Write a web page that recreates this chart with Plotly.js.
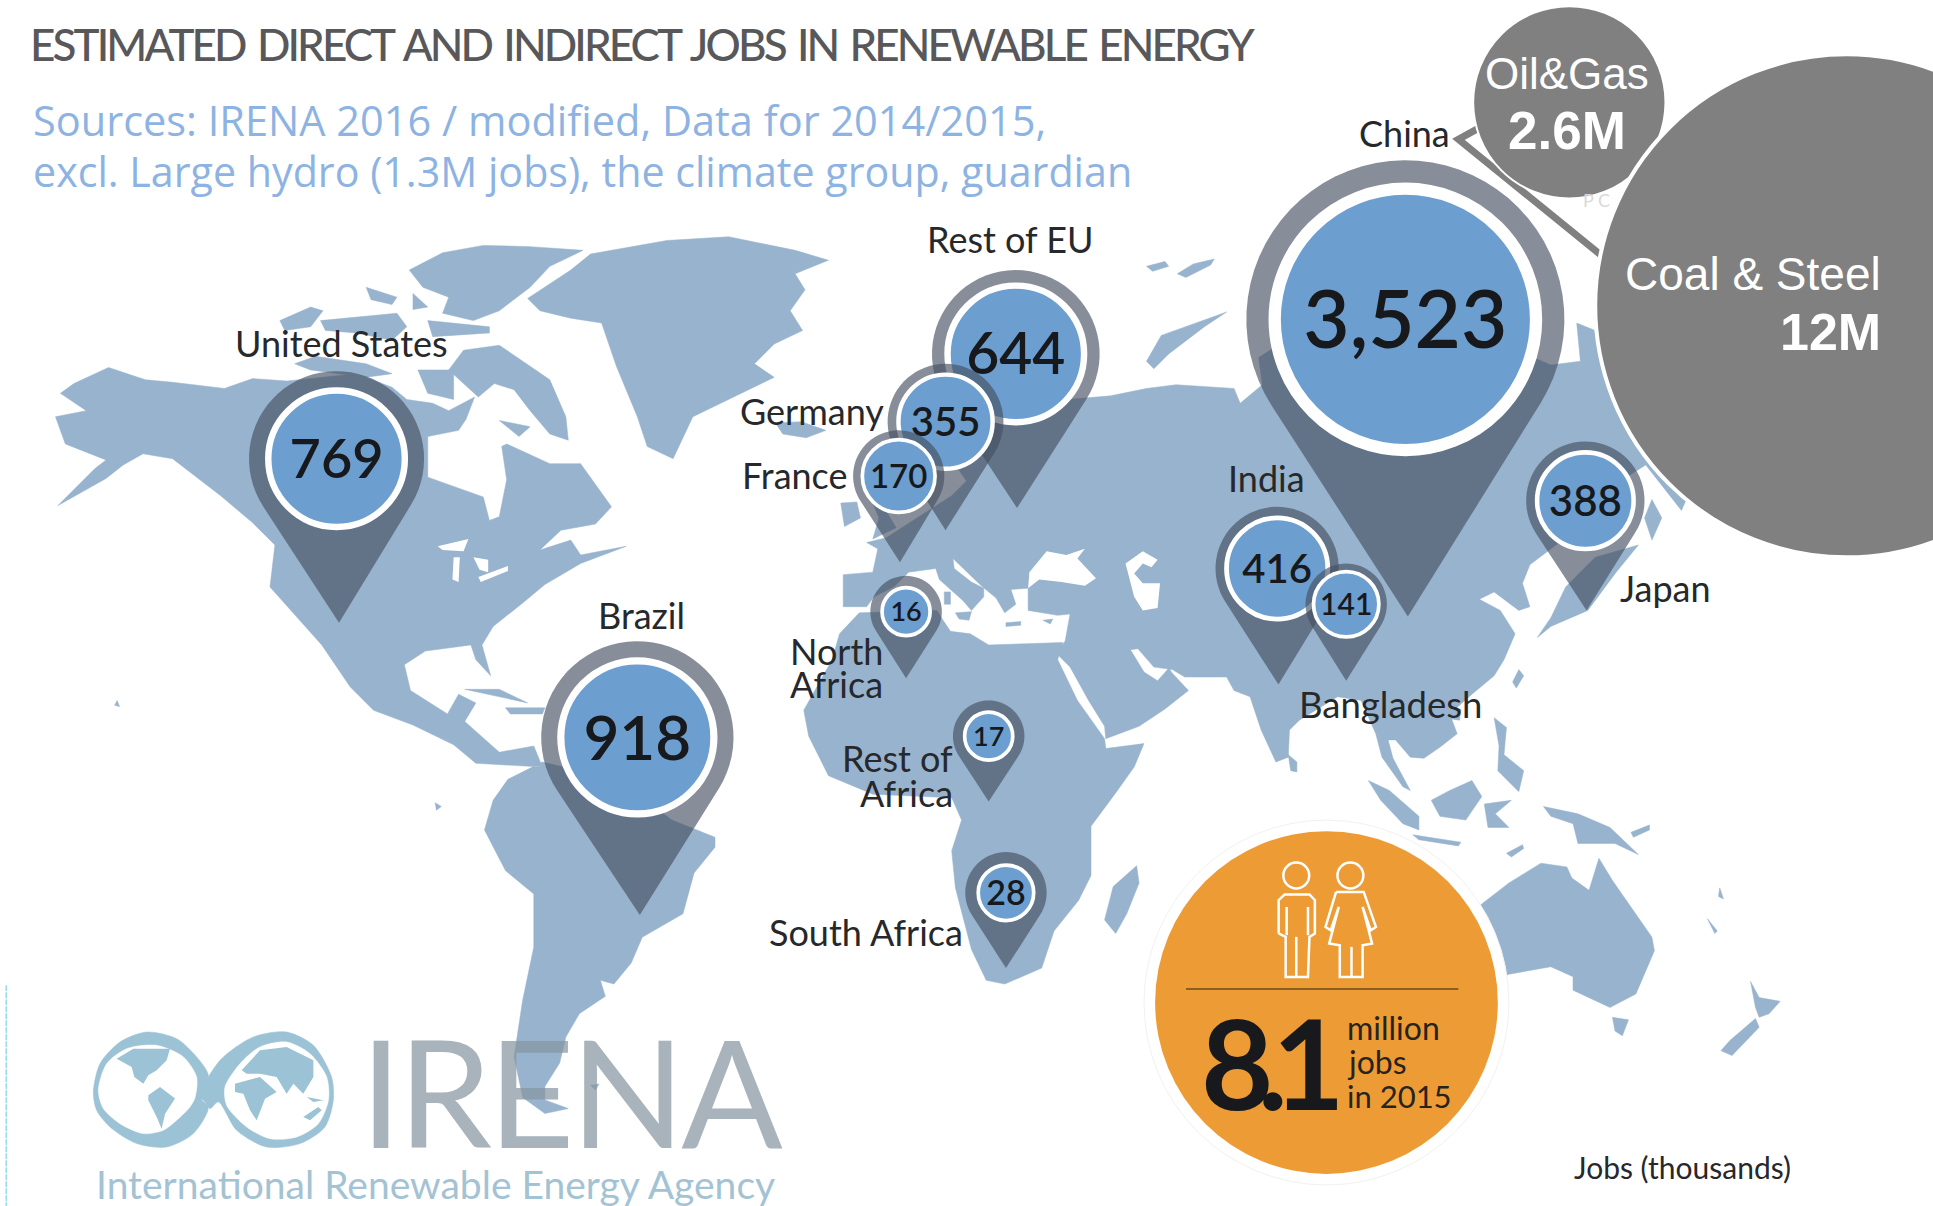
<!DOCTYPE html>
<html><head><meta charset="utf-8">
<script src="https://cdn.plot.ly/plotly-3.0.1.min.js"></script>
<style>html,body{margin:0;padding:0;background:#fff}#chart{width:1933px;height:1206px}</style>
</head><body><div id="chart"></div>
<script>
// ---------- data ----------
const regions = ['Rest of EU','Germany','France','United States','Brazil','China','India','Bangladesh','Japan','North Africa','Rest of Africa','South Africa'];
const jobs    = [644,355,170,769,918,3523,416,141,388,16,17,28];
const otherSectors = ['Oil&Gas','Coal & Steel'];
const otherJobs    = ['2.6M','12M'];
// pin placement on the map (image coordinates)
const pinX  = [824,767,729,273,517,1140,1036,1092,1286,735,802,816];
const pinY  = [287,342,386,372,598,259,461,490,406,496,597,724];
const tipX  = [825,767,730,275,519,1142,1037,1092,1287,735,802,816];
const tipY  = [412,430,456,505,742,500,555,552,495,550,650,785];
const outerR= [68,47,37,71,78,129,50,33,48,29,29,33];
const whiteR= [58,40,31,58,65,111,43,28,41,21,21,24];
const valueFont=[57,40,33,54,62,80,40,30,42,27,27,34];
// land outlines (image coordinates)
const northAmerica=[[49,319],[60,311],[88,298],[118,308],[140,310],[182,315],[205,307],[233,309],[289,303],[318,314],[330,324],[351,327],[364,333],[385,322],[378,340],[372,349],[347,354],[347,387],[392,403],[397,422],[405,419],[411,389],[407,362],[411,360],[446,376],[471,376],[496,411],[483,425],[455,430],[438,446],[463,438],[471,450],[508,443],[471,457],[442,474],[424,489],[400,508],[391,523],[398,548],[386,535],[382,523],[345,528],[328,539],[333,560],[363,579],[372,563],[386,570],[377,585],[405,610],[433,605],[440,622],[386,619],[368,604],[335,588],[303,576],[284,557],[261,523],[219,476],[223,442],[205,424],[179,402],[140,372],[116,368],[100,377],[86,388],[47,410],[77,380],[86,373],[53,360],[45,338],[70,333]];
const greenland=[[428,242],[463,219],[479,206],[541,195],[591,192],[645,203],[672,211],[645,222],[653,235],[641,252],[651,268],[628,279],[612,295],[628,306],[562,338],[546,372],[525,362],[517,338],[500,297],[488,262],[463,258],[438,252]];
const ellesmere=[[332,219],[359,205],[392,199],[430,200],[473,203],[446,216],[430,233],[405,252],[384,260],[359,254],[364,241],[343,233]];
const devon=[[347,260],[397,265],[397,270],[351,273]];
const axel=[[297,233],[322,241],[318,247],[301,243]];
const cornwallis=[[335,238],[347,249],[335,251]];
const banks=[[227,260],[252,249],[262,252],[252,265],[231,268]];
const melville=[[260,260],[289,257],[322,254],[330,265],[318,276],[289,270],[264,268]];
const victoria=[[239,295],[256,289],[297,295],[318,303],[297,306],[252,300]];
const kingWilliam=[[339,300],[368,300],[368,324],[347,319]];
const baffin=[[376,284],[405,280],[430,297],[446,308],[459,338],[461,357],[446,352],[430,333],[417,316],[401,311],[388,322],[364,300]];
const southampton=[[405,341],[430,346],[421,354]];
const iceland=[[629,343],[650,342],[670,349],[654,355],[635,352]];
const cuba=[[377,559],[405,559],[428,570],[410,566]];
const hispaniola=[[410,574],[442,574],[440,579],[414,579]];
const southAmerica=[[400,649],[412,632],[440,618],[470,625],[500,640],[525,650],[545,665],[580,679],[580,687],[563,708],[554,741],[521,760],[512,781],[498,798],[487,795],[491,808],[470,822],[459,841],[454,862],[442,881],[442,892],[461,899],[442,903],[424,890],[417,857],[424,811],[433,768],[433,725],[410,706],[393,673]];
const eurasia=[[684,466],[708,464],[712,445],[703,440],[719,436],[754,414],[772,402],[784,390],[770,370],[790,330],[830,310],[866,324],[901,321],[930,315],[954,312],[1001,315],[1006,327],[1024,312],[1021,290],[1060,265],[1140,245],[1258,296],[1282,293],[1279,262],[1294,268],[1400,280],[1370,400],[1364,414],[1335,377],[1305,396],[1270,436],[1241,458],[1235,473],[1241,492],[1232,495],[1212,480],[1200,486],[1217,495],[1229,514],[1220,535],[1212,548],[1194,563],[1176,579],[1182,595],[1168,606],[1155,615],[1144,614],[1132,600],[1126,600],[1130,615],[1144,641],[1138,638],[1121,614],[1116,595],[1104,568],[1085,565],[1054,584],[1046,592],[1045,614],[1035,618],[1023,592],[1014,565],[1001,560],[995,549],[961,549],[951,543],[936,541],[923,526],[917,527],[928,545],[939,552],[948,542],[951,546],[964,560],[945,575],[924,589],[897,599],[896,589],[883,568],[868,541],[856,529],[864,520],[868,498],[858,499],[834,495],[834,477],[820,478],[824,490],[815,497],[808,485],[796,475],[773,453],[774,461],[788,472],[798,477],[798,484],[788,495],[781,487],[762,470],[759,461],[737,464],[725,476],[709,484],[703,492],[684,492]];
const africa=[[697,497],[730,496],[760,495],[765,503],[771,512],[787,514],[802,523],[833,522],[862,521],[858,535],[874,568],[896,599],[897,607],[928,603],[920,622],[905,643],[885,670],[885,710],[875,730],[855,755],[845,785],[815,798],[800,795],[788,770],[775,720],[772,690],[780,665],[772,647],[708,644],[672,629],[656,597],[652,576],[675,535],[681,514]];
const madagascar=[[922,702],[924,716],[914,741],[905,757],[896,746],[903,719]];
const australia=[[1190,745],[1202,733],[1224,716],[1250,700],[1271,703],[1275,712],[1289,722],[1297,696],[1308,714],[1340,760],[1342,771],[1327,806],[1306,817],[1276,803],[1276,792],[1258,784],[1224,790],[1195,800]];
const tasmania=[[1308,825],[1321,827],[1316,840],[1310,836]];
const nzNorth=[[1420,796],[1427,809],[1444,812],[1435,822],[1427,825],[1424,817]];
const nzSouth=[[1424,826],[1427,833],[1405,856],[1396,852],[1403,844]];
const sumatra=[[1110,633],[1127,641],[1151,662],[1151,673],[1138,668],[1120,649]];
const java=[[1146,677],[1185,683],[1183,686],[1151,681]];
const borneo=[[1161,649],[1176,641],[1194,633],[1202,646],[1189,665],[1168,662]];
const sulawesi=[[1204,652],[1226,649],[1213,660],[1224,671],[1207,671]];
const newGuinea=[[1252,654],[1280,660],[1306,671],[1329,693],[1310,684],[1280,684],[1276,668],[1258,662]];
const newBritain=[[1323,675],[1338,669],[1338,673],[1325,679]];
const timor=[[1222,692],[1235,685],[1236,688],[1226,695]];
const philippines=[[1212,582],[1222,590],[1220,612],[1236,625],[1232,642],[1215,625],[1216,605]];
const japanIslands=[[1329,442],[1311,464],[1288,495],[1258,508],[1247,517],[1258,501],[1270,476],[1294,452]];
const taiwan=[[1232,543],[1236,548],[1230,558],[1227,553]];
const hainan=[[1176,575],[1185,575],[1184,584],[1177,583]];
const sriLanka=[[1045,612],[1052,618],[1052,626],[1047,625]];
const ireland=[[682,408],[695,407],[698,420],[685,427]];
const britain=[[703,396],[717,392],[716,410],[727,428],[708,437],[713,420]];
const novayaZemlya=[[930,293],[942,272],[995,253],[977,265],[948,287],[936,299]];
const svalbard=[[930,216],[945,212],[948,216],[935,220]];
const franzJosef=[[955,222],[968,214],[985,210],[982,215],[962,225]];
const sakhalin=[[1340,405],[1348,420],[1340,438],[1334,420]];
const sicily=[[775,497],[788,496],[786,503],[778,502]];
const sardinia=[[766,480],[771,480],[771,490],[766,490]];
const crete=[[816,505],[828,504],[828,507],[816,508]];
const cyprus=[[846,503],[854,502],[852,506]];
const specks=[[[95,568],[97,573],[93,572]],[[353,651],[358,654],[354,657]],[[479,880],[486,879],[483,884]],[[1395,720],[1398,729],[1394,727]],[[1385,745],[1393,755],[1391,757]]];
const lands=[northAmerica,greenland,ellesmere,devon,axel,cornwallis,banks,melville,victoria,kingWilliam,baffin,southampton,iceland,cuba,hispaniola,southAmerica,eurasia,africa,madagascar,australia,tasmania,nzNorth,nzSouth,sumatra,java,borneo,sulawesi,newGuinea,newBritain,timor,philippines,japanIslands,taiwan,hainan,sriLanka,ireland,britain,novayaZemlya,svalbard,franzJosef,sakhalin,sicily,sardinia,crete,cyprus,...specks];
// inland water
const blackSea=[[835,464],[849,447],[865,450],[880,445],[874,453],[889,469],[880,475],[861,472],[843,470],[834,477]];
const caspian=[[913,457],[927,447],[939,454],[934,460],[927,457],[920,465],[927,473],[941,473],[939,493],[927,495],[920,484]];
const superior=[[355,443],[380,437],[376,447],[359,446]];
const michigan=[[368,452],[373,452],[372,472],[367,470]];
const huron=[[384,452],[396,454],[396,464],[389,462]];
const erie=[[388,468],[412,459],[412,463],[390,472]];
const waters=[blackSea,caspian,superior,michigan,huron,erie];
// logo outlines
const logoLeftOuter=[[75.7,885.5],[81.1,862.6],[97.3,845],[119,836.9],[143.3,842.3],[159.5,857.1],[169,872],[162.2,889.6],[169,898.2],[156.8,919.3],[135.2,930.2],[110.9,927.4],[89.2,913.9],[78.4,900.4]];
const logoLeftHole=[[79.8,884.2],[86.5,862.6],[102.8,850.4],[127.1,847.7],[148.7,857.1],[159.5,873.4],[158.2,890.1],[154.1,897.7],[143.3,908.5],[132.5,916.6],[116.3,919.3],[97.3,911.2],[83.8,899]];
const logoRightOuter=[[160.9,891],[178.5,859.8],[205.5,840.9],[232.5,836.9],[254.2,847.7],[269,873.4],[270.4,892.3],[263.6,913.9],[243.4,927.4],[216.3,930.2],[192,916.6],[177.1,893.6],[170.4,899],[165,892.3]];
const logoRightHole=[[182.5,881.5],[194.7,862.6],[210.9,849],[232.5,845],[251.5,854.5],[265,873.4],[266.4,892.3],[258.2,911.2],[240.7,922],[219,923.4],[200.1,913.9],[183.9,896.4]];
const logoWorld=[[[94.6,858.5],[108.2,850.4],[137.9,850.4],[135.2,859.8],[127.1,868],[120.3,872],[116.3,878.8],[108.9,873.4],[106.8,865.3]],[[120.3,888.2],[129.8,881.5],[142,890.9],[133.9,903.1],[131.1,915.3],[127.1,905.8],[120.3,892.3]],[[196,868],[210.9,851.7],[232.5,849],[254.2,859.8],[254.2,873.4],[246,886.9],[238,878.8],[232.5,886.9],[224.4,873.4],[210.9,870.7],[200.1,870.7]],[[190.6,878.8],[210.9,873.4],[224.4,885.5],[215,891],[208.2,908.5],[202.8,900.4],[197.4,886.9],[190.6,885.5]],[[246,905.8],[258.2,897.7],[261,900.4],[251.5,908.5]],[[248.8,889.6],[262.3,892.3],[254.2,893.6]]];
// icon outlines
const man=[[1037.2,757],[1037.2,730],[1042,725.4],[1062.2,725.4],[1066.6,730],[1066.6,757],[1062.2,759.8],[1061,792.2],[1042.9,792.2],[1042.9,759.8],[1037.2,757]];
const manLines=[[[1043.7,735.5],[1043.7,758.4]],[[1061,735.5],[1061,758.4]],[[1051.5,759.8],[1051.5,792.2]]];
const woman=[[1083.8,723.3],[1106.2,723.3],[1116.1,751.7],[1111.8,754.4],[1105.3,735.5],[1113,765.2],[1105.3,766.6],[1105.3,792.2],[1086.8,792.2],[1086.8,766.6],[1078.2,765.2],[1086,735.5],[1079.5,754.4],[1075.2,751.7],[1083.8,723.3]];
const womanLines=[[[1096.3,767.9],[1096.3,792.2]]];

// ---------- helpers ----------
const K=1933/1568; // image units to pixels
function join(list,close){const x=[],y=[];list.forEach(p=>{p.forEach(q=>{x.push(q[0]);y.push(q[1]);});if(close){x.push(p[0][0]);y.push(p[0][1]);}x.push(null);y.push(null);});return {x,y};}
function area(list,color,line){const j=join(list,true);return {x:j.x,y:j.y,type:'scatter',mode:line?'lines':'none',fill:'toself',fillcolor:color,line:{width:line||0,color:color},hoverinfo:'skip',showlegend:false};}
function smoothArea(list,color){const j=join(list,true);return {x:j.x,y:j.y,type:'scatter',mode:'lines',fill:'toself',fillcolor:color,line:{width:0.5,color,shape:'spline',smoothing:0.8},hoverinfo:'skip',showlegend:false};}
function path(list,color,width,dash){const j=join(list,false);return {x:j.x,y:j.y,type:'scatter',mode:'lines',line:{color,width,dash:dash||'solid',shape:'linear'},hoverinfo:'skip',showlegend:false};}
function disc(x,y,r,fill,lineColor,lineW){return {x:[x],y:[y],type:'scatter',mode:'markers',marker:{size:2*r*K,color:fill,line:{color:lineColor||fill,width:lineW||0}},hoverinfo:'skip',showlegend:false};}
function pinOutline(cx,cy,r,tx,ty){
  const d=Math.hypot(tx-cx,ty-cy), base=Math.atan2(ty-cy,tx-cx), off=Math.acos(r/d);
  const p=[[tx,ty]];
  for(let i=0;i<=48;i++){const a=base+off+(2*Math.PI-2*off)*i/48;p.push([cx+r*Math.cos(a),cy+r*Math.sin(a)]);}
  return p;
}
const fmt=v=>v.toLocaleString('en-US');
const bodyFont='Lato, "Open Sans", sans-serif';
const ink='#26282b';
const spaced=(t,px,word)=>'<span style="letter-spacing:'+px+'px;word-spacing:'+(word||0)+'px">'+t+'</span>';

// ---------- traces ----------
const traces=[];
traces.push(area(lands,'#97b3cd',0.5));
traces.push(area(waters,'#ffffff'));
regions.forEach((name,i)=>{
  traces.push(area([pinOutline(pinX[i],pinY[i],outerR[i],tipX[i],tipY[i])],'rgba(69,80,96,0.644)'));
  const ring=Math.max(3,whiteR[i]*0.09);
  traces.push({x:[pinX[i]],y:[pinY[i]],type:'scatter',mode:'markers',
    marker:{size:(2*whiteR[i]-ring)*K,color:'#6c9fd0',line:{color:'#ffffff',width:ring*K}},hoverinfo:'skip',showlegend:false});
  traces.push({x:[pinX[i]],y:[pinY[i]+0.09*valueFont[i]],name,type:'scatter',mode:'text',text:[fmt(jobs[i])],textposition:'middle center',
    textfont:{family:bodyFont,size:valueFont[i],color:'#17191c',weight:600},hoverinfo:'skip',showlegend:false});
});
// orange badge
traces.push(disc(1076,813,148,'#ffffff','#f1f1f3',1));
traces.push(disc(1076,813,139,'#ed9c35'));
traces.push(disc(1051.5,710,10.5,'rgba(0,0,0,0)','#ffffff',2.5));
traces.push(disc(1095.4,710,10.5,'rgba(0,0,0,0)','#ffffff',2.5));
traces.push(path([man,woman,...manLines,...womanLines],'#ffffff',2.5));
traces.push(path([[[962,802],[1183,802]]],'#6b4a1a',1.6));
// China connector and sector bubbles
traces.push(path([[[1212,97],[1183,113],[1305,212]]],'#808080',7));
traces.push(disc(1273,83,78,'#808080','#ffffff',2));
traces.push(disc(1498,248,204,'#808080','#ffffff',4));
// logo
traces.push(smoothArea([logoLeftOuter],'#9cc2d6'));
traces.push(smoothArea([logoLeftHole],'#ffffff'));
traces.push(smoothArea([logoRightOuter],'#9cc2d6'));
traces.push(smoothArea([logoRightHole],'#ffffff'));
traces.push(area(logoWorld,'#9cc2d6'));
// scanned edge line
traces.push(path([[[5,799],[5,978]]],'#67c4e8',1,'6px,1px'));

// ---------- text ----------
function note(text,x,y,size,color,anchor,family,weight){return {text,x,y,xref:'x',yref:'y',showarrow:false,xanchor:anchor||'center',yanchor:'middle',font:{size,color,family:family||bodyFont,weight:weight||400},borderpad:0,borderwidth:0};}
const annotations=[
 note(spaced('ESTIMATED DIRECT AND INDIRECT JOBS IN RENEWABLE ENERGY',-2.9,4),24,36,44,'#58585a','left','Lato',500),
 note('Sources: IRENA 2016 / modified, Data for 2014/2015,',27,97,41.5,'#8db3e2','left','"Open Sans"'),
 note('excl. Large hydro (1.3M jobs), the climate group, guardian',27,139,41.2,'#8db3e2','left','"Open Sans"'),
 note('United States',277,278,36,ink), note('Rest of EU',820,194,36,ink),
 note('Germany',717,333,36,ink,'right'), note('France',687,385,36,ink,'right'),
 note('China',1139,108,36,ink), note('India',1027,388,36,ink), note('Brazil',520,499,36,ink),
 note('Japan',1314,477,36,ink,'left'), note('North',716,528,36,ink,'right'), note('Africa',716,555,36,ink,'right'),
 note('Rest of',773,615,36,ink,'right'), note('Africa',773,643,36,ink,'right'),
 note('South Africa',781,756,36,ink,'right'), note('Bangladesh',1128,571,36.5,ink),
 note('P C',1295,162,18,'#d9d9d9'),
 note(otherSectors[0],1271,60,44,'#ffffff','center','"Liberation Sans"'),
 note('<b>'+otherJobs[0]+'</b>',1271,106,53,'#ffffff','center','"Liberation Sans"'),
 note(otherSectors[1],1526,222,46,'#ffffff','right','"Liberation Sans"'),
 note('<b>'+otherJobs[1]+'</b>',1526,269,52,'#ffffff','right','"Liberation Sans"'),
 note('<b>'+spaced('8.1',-15.5)+'</b>',974,861,125,'#17191c','left'),
 note('million',1093,833,32,'#26241f','left'),note('jobs',1093,861,32,'#26241f','left'),note('in 2015',1093,889,31,'#26241f','left'),
 note('Jobs (thousands)',1365,946,30,ink),
 note(spaced('IRENA',-4),292,884,150,'rgba(135,150,162,0.72)','left','Lato',400),
 note('International Renewable Energy Agency',78,960,39,'#a3c3d4','left','Lato',400)
];

Plotly.newPlot('chart',traces,{
  width:1933,height:1206,margin:{l:0,r:0,t:0,b:0,pad:0},paper_bgcolor:'#fff',plot_bgcolor:'#fff',showlegend:false,hovermode:false,
  xaxis:{range:[0,1568],visible:false,fixedrange:true},
  yaxis:{range:[978,0],visible:false,fixedrange:true},
  annotations
},{displayModeBar:false,staticPlot:true});
</script></body></html>
